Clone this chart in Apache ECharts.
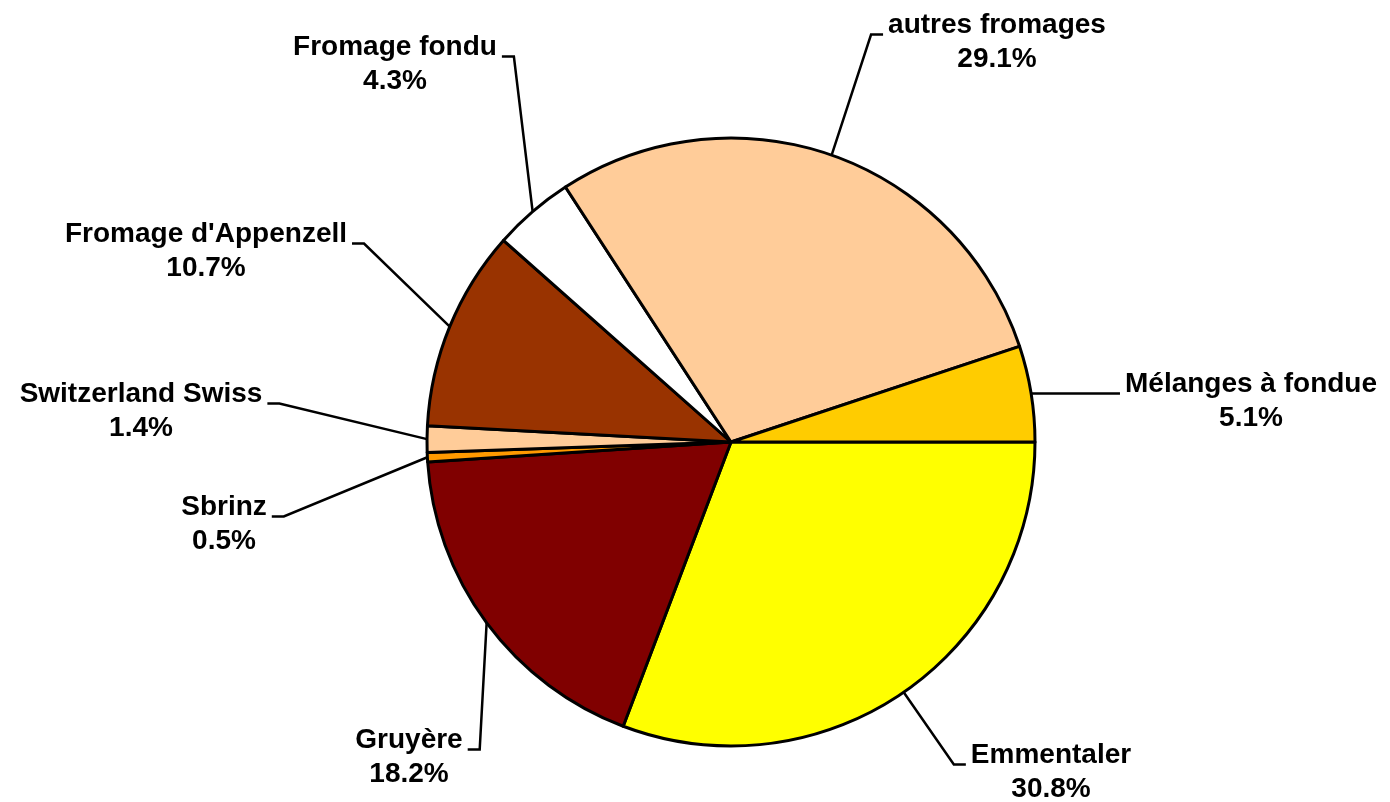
<!DOCTYPE html>
<html>
<head>
<meta charset="utf-8">
<script src="https://cdn.jsdelivr.net/npm/echarts@6/dist/echarts.min.js"></script>
<style>
  html, body { margin: 0; padding: 0; background: #fff; }
  #chart { width: 1390px; height: 802px; }
</style>
</head>
<body>
<div id="chart"></div>
<script>
// parts de fromage (%), dans le sens horaire depuis 3 heures
var categories = ['Emmentaler', 'Gruyère', 'Sbrinz', 'Switzerland Swiss', "Fromage d'Appenzell", 'Fromage fondu', 'autres fromages', 'Mélanges à fondue'];
var values = [30.8, 18.2, 0.5, 1.4, 10.7, 4.3, 29.1, 5.1];
var colors = ['#FFFF00', '#800000', '#FF9900', '#FFCC99', '#993300', '#FFFFFF', '#FFCC99', '#FFCC00'];

// position des étiquettes (centre du bloc de texte)
var labelPos = [[1051, 772], [409, 757], [224, 524], [141, 411], [206, 251], [395, 64], [997, 42], [1251, 401]];

var cx = 731, cy = 442, r = 304;

var total = 0;
values.forEach(function (v) { total += v; });

function midAngle(idx) {
    var acc = 0;
    for (var i = 0; i < idx; i++) acc += values[i];
    return (acc + values[idx] / 2) / total * Math.PI * 2;
}

var myChart = echarts.init(document.getElementById('chart'));

var option = {
    animation: false,
    series: [{
        type: 'pie',
        center: [cx, cy],
        radius: r,
        startAngle: 0,
        clockwise: true,
        avoidLabelOverlap: false,
        itemStyle: {
            borderColor: '#000',
            borderWidth: 3
        },
        label: {
            show: true,
            position: 'outside',
            color: '#000',
            fontFamily: 'Liberation Sans',
            fontWeight: 'bold',
            fontSize: 28,
            lineHeight: 34,
            align: 'center',
            formatter: function (p) {
                return p.name + '\n' + p.value.toFixed(1) + '%';
            }
        },
        labelLine: {
            show: true,
            lineStyle: { color: '#000', width: 2.5 }
        },
        labelLayout: function (p) {
            var i = p.dataIndex;
            var pos = labelPos[i];
            var a = midAngle(i);
            var anchor = [cx + r * Math.cos(a), cy + r * Math.sin(a)];
            var w = p.labelRect.width;
            var sy = pos[1] - 7.5;
            var end, elbow;
            if (pos[0] > cx) {
                end = [pos[0] - w / 2 - 5, sy];
                elbow = [end[0] - 12, sy];
            } else {
                end = [pos[0] + w / 2 + 5, sy];
                elbow = [end[0] + 12, sy];
            }
            return {
                x: pos[0],
                y: pos[1],
                align: 'center',
                verticalAlign: 'middle',
                labelLinePoints: [anchor, elbow, end]
            };
        },
        data: categories.map(function (name, i) {
            return { name: name, value: values[i], itemStyle: { color: colors[i] } };
        })
    }]
};

myChart.setOption(option);
</script>
</body>
</html>
